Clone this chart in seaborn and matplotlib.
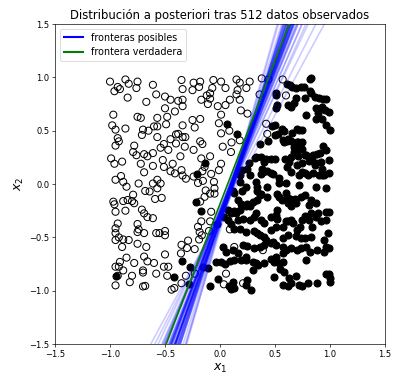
import numpy as np
import pandas as pd
import matplotlib
matplotlib.use('Agg')
import matplotlib.pyplot as plt
import seaborn as sns
from matplotlib.lines import Line2D

# observed points, class 0 (open markers)
x1_0 = [-1.00, -0.96, -0.93, -0.86, -0.91, -0.83, -0.75, -0.76, -0.84, -0.61, -0.67, -0.58, -0.50, -0.45, -0.50,
        -0.97, -0.98, -0.95, -0.86, -0.75, -0.72, -0.70, -0.71, -0.65, -0.60, -0.57, -0.57, -0.48, -0.49,
        -0.93, -0.95, -0.92, -0.78, -0.79, -0.76, -0.69, -0.61, -0.66, -0.57, -0.54, -0.51, -0.45, -0.47,
        -0.38, -0.40, -0.34, -0.32, -0.36, -0.99, -0.96, -0.89, -0.72, -0.61, -0.69, -0.52, -0.51, -0.45,
        -0.43, -0.41, -0.35, -0.34, -0.31, -0.90, -0.88, -0.95, -0.85, -0.74, -0.68, -0.64, -0.61, -0.57,
        -0.54, -0.57, -0.59, -0.53, -0.79, -0.97, -0.96, -0.95, -0.86, -0.88, -0.84, -0.80, -0.78, -0.71,
        -0.69, -0.66, -0.61, -0.93, -0.95, -0.95, -0.95, -0.92, -0.88, -0.83, -0.75, -0.74, -0.75, -0.69,
        -0.58, -0.55, -0.50, -0.50, -0.75, -0.89, -0.67, -0.69, -0.91, -0.85, -0.92, -0.95, -0.88, -0.78,
        -0.70, -0.60, -0.50, -0.51, -0.47, -0.66, -0.93, -0.80, -0.82, -0.95, -0.70, -0.70, -0.68, -0.58,
        -0.48, -0.415, -0.44,
        -0.35, -0.34, -0.24, -0.18, -0.19, -0.25, -0.06, 0.01, -0.07, -0.09, -0.12, -0.09, -0.17, -0.11,
        -0.02, -0.38, -0.34, -0.34, -0.41, 0.05, 0.15, 0.18, 0.27, 0.24, 0.16, 0.15, 0.38, 0.44, 0.57,
        0.36, 0.60, 0.09, 0.05, 0.18, 0.19, 0.25, -0.25, -0.18, -0.34, -0.23, -0.40, -0.315, -0.18, -0.16,
        -0.24, 0.01, -0.01, 0.085, 0.01, 0.025, 0.105, 0.10, 0.18, -0.09, -0.17, -0.14, -0.08, -0.16,
        -0.01, 0.01, -0.24, -0.20, -0.155, -0.055, -0.13, -0.09, -0.05, -0.05, -0.14, -0.18, -0.08, -0.17,
        -0.20, -0.185, -0.165, -0.19, -0.09, -0.10, 0.09, -0.29, -0.35, -0.30, -0.23, -0.355, -0.31, -0.23,
        -0.35, 0.055, 0.035, 0.13, 0.39, 0.21, 0.42, 0.43]
x2_0 = [0.96, 0.87, 0.91, 0.98, 0.89, 0.94, 0.96, 0.90, 0.81, 0.93, 0.77, 0.84, 0.82, 0.79, 0.71,
        0.65, 0.55, 0.51, 0.52, 0.63, 0.62, 0.51, 0.46, 0.50, 0.54, 0.62, 0.54, 0.63, 0.56,
        0.43, 0.36, 0.40, 0.36, 0.30, 0.27, 0.28, 0.29, 0.26, 0.44, 0.34, 0.375, 0.42, 0.32,
        0.47, 0.38, 0.44, 0.35, 0.26, 0.24, 0.19, 0.21, 0.19, 0.17, 0.11, 0.225, 0.16, 0.12,
        0.19, 0.10, 0.13, 0.08, 0.05, 0.075, 0.02, 0.04, -0.025, 0.005, -0.065, -0.07, 0.005, 0.04,
        0.005, -0.04, -0.14, -0.13, -0.10, -0.165, -0.19, -0.26, -0.25, -0.16, -0.15, -0.16, -0.18, -0.24,
        -0.275, -0.31, -0.32, -0.37, -0.415, -0.46, -0.525, -0.50, -0.52, -0.525, -0.375, -0.425, -0.45, -0.46,
        -0.46, -0.46, -0.44, -0.48, -0.56, -0.59, -0.59, -0.68, -0.73, -0.69, -0.775, -0.775, -0.81, -0.74,
        -0.81, -0.74, -0.66, -0.775, -0.775, -0.725, -0.86, -0.86, -0.92, -0.95, -0.83, -0.96, -0.955, -0.84,
        -0.86, -0.975, -0.99,
        0.975, 0.89, 0.95, 0.96, 0.91, 0.88, 0.975, 0.96, 0.90, 0.85, 0.83, 0.80, 0.79, 0.75,
        0.73, 0.78, 0.79, 0.73, 0.68, 0.90, 0.98, 0.95, 0.96, 0.90, 0.88, 0.84, 0.99, 0.98, 0.98,
        0.84, 0.83, 0.79, 0.74, 0.79, 0.69, 0.66, 0.60, 0.61, 0.55, 0.53, 0.465, 0.44, 0.40, 0.375,
        0.32, 0.65, 0.57, 0.50, 0.475, 0.35, 0.39, 0.30, 0.41, 0.26, 0.24, 0.16, 0.095, 0.12,
        0.13, 0.19, 0.07, 0.01, 0.03, 0.02, -0.06, -0.09, -0.09, -0.04, -0.12, -0.165, -0.26, -0.35,
        -0.40, -0.45, -0.48, -0.52, -0.35, -0.44, -0.425, -0.53, -0.57, -0.60, -0.61, -0.65, -0.86, -0.84,
        -0.93, -0.84, -0.94, -0.59, -0.62, -0.93, 0.565, 0.47]

# observed points, class 1 (filled markers)
x1_1 = [-0.95, -0.42, -0.345, -0.27, -0.28, -0.15, -0.09, -0.015, -0.22, -0.17, -0.14, -0.21, 0.06, 0.155,
        -0.03, 0.115,
        0.61, 0.655, 0.82, 0.74, 0.76, 0.82, 0.83, 0.86, 0.90, 0.94, 0.96, 0.77, 0.69, 0.51, 0.51, 0.645,
        0.87, 0.955, 0.99, 0.93, 1.0, 0.75, 0.72, 0.655, 0.58, 0.47, 0.50, 0.50, 0.57, 0.61, 0.645, 0.44,
        0.36, 0.71, 0.73, 0.75, 0.94, 0.96, 0.91, 0.845, 0.88, 0.78, 0.71, 0.67, 0.65, 0.59, 0.50, 0.42,
        0.33, 0.26, 0.385, 0.37, 0.43, 0.48, 0.54, 0.54, 0.61, 0.65, 0.715, 0.75, 0.80, 0.85, 0.90, 0.93,
        0.99, 0.745, 0.81, 0.875, 0.92, 0.99, 0.70, 0.25, 0.20, 0.18, 0.33, 0.34, 0.335, 0.37, 0.43, 0.34,
        0.30, 0.25, 0.235, 0.19, 0.16, 0.125, 0.52, 0.54, 0.56, 0.60, 0.615, 0.615, 0.64, 0.68, 0.735, 0.77,
        0.65, 0.83, 0.87, 0.99, 0.89, 0.83, 0.77, 0.52, 0.51, 0.52, 0.46, 0.37, 0.40, 0.31, 0.27, 0.21,
        0.16, 0.13, 0.185, 0.07, 0.10, 0.07, 0.04, 0.10, 0.13, 0.185, 0.235, 0.31, 0.36, 0.40, 0.42, 0.46,
        0.51, 0.57, 0.615, 0.65, 0.70, 0.73, 0.745, 0.81, 0.87, 0.92, 0.96, 0.98, 0.95, 0.96, 0.99, 0.95,
        0.88, 0.83, 0.77, 0.74, 0.69, 0.615, 0.57, 0.51, 0.46, 0.40, 0.36, 0.31, 0.25, 0.21, 0.115, 0.16,
        0.235, 0.30, 0.33, 0.40, 0.46, 0.51, 0.57, 0.60, 0.65, 0.70, 0.74, 0.78, 0.82, 0.55, 0.585, 0.63,
        0.645, 0.69, 0.72, 0.75, 0.80, 0.88, 0.99, 1.0, 1.0, 0.54, 0.49, 0.575, 0.615, -0.035, 0.01, 0.045,
        0.095, 0.13, 0.19, 0.235, 0.35, 0.30, 0.25, 0.235, 0.28, 0.13, 0.10, 0.08, 0.12, -0.11,
        0.83, 0.64, 0.69, 0.51, 0.515, 0.67, 0.62, 0.93, 0.78, 0.89, 0.87, 0.96, 0.705, 0.565, 0.525, 0.615,
        0.585, 0.705, 0.75, 0.675, 0.705, 0.77, 0.84, 0.63, 0.46, 0.37, 0.40, 0.32, 0.86, 0.93, 0.77, 0.95,
        0.39, 0.46, 0.27, 0.43, 0.60, 0.72, 0.87, 0.96, 0.36, 0.69, 0.81, 0.96, 0.33, 0.27, 0.145, 0.60,
        0.66, 0.84, 0.34, 0.48, 0.57, 0.025, 0.055, 0.49, 0.57, 0.78, 0.96, 0.18, 0.235, 0.20]
x2_1 = [-0.86, -0.875, -0.725, -0.775, -0.94, -0.775, -0.96, -0.89, -0.17, -0.25, 0.20, 0.09, 0.56, 0.47,
        -0.375, -0.07,
        0.94, 0.91, 0.985, 0.91, 0.91, 0.875, 0.85, 0.82, 0.81, 0.80, 0.80, 0.81, 0.81, 0.83, 0.715, 0.72,
        0.715, 0.69, 0.675, 0.61, 0.505, 0.505, 0.51, 0.48, 0.50, 0.545, 0.55, 0.46, 0.41, 0.405, 0.40, 0.40,
        0.375, 0.39, 0.35, 0.325, 0.36, 0.32, 0.29, 0.27, 0.28, 0.27, 0.265, 0.30, 0.255, 0.23, 0.23, 0.23,
        0.25, 0.195, 0.145, 0.09, 0.125, 0.09, 0.06, 0.01, 0.16, 0.11, 0.085, 0.11, 0.085, 0.105, 0.085, 0.085,
        0.10, 0.20, 0.215, 0.195, 0.21, 0.225, 0.18, 0.145, 0.13, 0.085, 0.02, -0.025, -0.07, -0.09, -0.12, -0.15,
        -0.165, -0.19, -0.21, -0.19, -0.15, -0.08, -0.09, -0.12, -0.15, -0.08, -0.135, -0.18, -0.145, -0.14, -0.12, -0.10,
        -0.21, -0.15, -0.18, -0.26, -0.27, -0.275, -0.30, -0.245, -0.29, -0.33, -0.31, -0.34, -0.37, -0.31, -0.34, -0.33,
        -0.34, -0.25, -0.245, -0.24, -0.275, -0.34, -0.31, -0.375, -0.425, -0.425, -0.45, -0.44, -0.48, -0.50, -0.525, -0.43,
        -0.40, -0.40, -0.35, -0.34, -0.43, -0.40, -0.34, -0.34, -0.31, -0.35, -0.34, -0.46, -0.525, -0.59, -0.60, -0.635,
        -0.62, -0.50, -0.51, -0.51, -0.49, -0.48, -0.51, -0.57, -0.555, -0.57, -0.59, -0.60, -0.58, -0.57, -0.62, -0.65,
        -0.68, -0.73, -0.745, -0.745, -0.70, -0.68, -0.65, -0.62, -0.60, -0.62, -0.60, -0.59, -0.635, -0.80, -0.82, -0.885,
        -0.93, -0.86, -0.95, -0.96, -0.93, -0.93, -0.84, -0.885, -0.915, -0.745, -0.87, -0.95, -0.96, -0.73, -0.73, -0.75,
        -0.72, -0.71, -0.71, -0.71, -0.76, -0.81, -0.90, -0.95, -0.99, -0.97, -0.985, -0.96, -0.915, -0.79,
        0.99, 0.925, 0.90, 0.85, 0.74, 0.76, 0.74, 0.72, 0.65, 0.665, 0.61, 0.55, 0.52, 0.52, 0.47, 0.425,
        0.39, 0.39, 0.39, 0.35, 0.30, 0.27, 0.25, 0.21, 0.23, 0.25, 0.21, 0.24, 0.175, 0.145, 0.10, 0.08,
        0.11, 0.10, 0.08, -0.025, 0.005, -0.01, -0.025, -0.04, -0.10, -0.18, -0.20, -0.26, -0.275, -0.21, -0.275, -0.35,
        -0.37, -0.40, -0.46, -0.54, -0.59, -0.59, -0.635, -0.73, -0.73, -0.71, -0.84, 0.02, -0.025, -0.07]

# posterior samples of the boundary: x1 = cut + x2 / slope
cut = [0.11, 0.10, 0.12, 0.09, 0.11, 0.12, 0.10, 0.09, 0.12, 0.11, 0.10, 0.11, 0.13, 0.10, 0.09, 0.12,
       0.11, 0.10, 0.10, 0.12, 0.11, 0.13, 0.12, 0.09, 0.10, 0.12, 0.11, 0.13, 0.12, 0.14, 0.11, 0.10,
       0.12, 0.09, 0.16, 0.11, 0.10, 0.12, 0.13, 0.10, 0.12, 0.11, 0.10, 0.13, 0.11, 0.11, 0.10, 0.12,
       0.11, 0.10, 0.12, 0.11]
slope = [2.85, 2.70, 3.00, 2.60, 2.90, 3.10, 2.75, 2.55, 2.95, 3.20, 2.80, 2.65, 3.05, 2.45, 2.90, 3.30,
         2.70, 2.50, 3.00, 2.85, 2.35, 3.40, 2.60, 2.80, 2.95, 2.20, 3.15, 2.75, 2.90, 2.05, 3.55, 2.65,
         2.85, 3.00, 1.90, 2.70, 3.10, 2.55, 2.80, 3.25, 2.40, 3.05, 2.75, 2.30, 3.65, 2.90, 2.80, 3.00,
         2.75, 2.95, 2.85, 3.10]
true_cut = 0.07
true_slope = 2.68

fig = plt.figure(figsize=(6.6, 6.35), dpi=60)
ax = fig.add_axes([0.139, 0.097, 0.833, 0.84])

sns.scatterplot(x=x1_0, y=x2_0, ax=ax, s=72, color='none', edgecolor='black', linewidth=1.2, zorder=1)
ax.collections[-1].set_facecolor('none')
sns.scatterplot(x=x1_1, y=x2_1, ax=ax, s=72, color='black', edgecolor='black', linewidth=1.2, zorder=1)

yy = np.array([-1.5, 1.5])
for c, m in zip(cut, slope):
    ax.plot(c + yy / m, yy, color='blue', alpha=0.2, lw=2, zorder=2)
ax.plot(true_cut + yy / true_slope, yy, color='green', lw=2, zorder=3)

ax.set_xlim(-1.5, 1.5)
ax.set_ylim(-1.5, 1.5)
ax.set_xticks(np.arange(-1.5, 1.51, 0.5))
ax.set_yticks(np.arange(-1.5, 1.51, 0.5))
ax.set_xlabel('$x_1$', fontsize=15)
ax.set_ylabel('$x_2$', fontsize=15)
ax.set_title('Distribución a posteriori tras 512 datos observados', fontsize=14)

handles = [Line2D([0], [0], color='blue', lw=2.5), Line2D([0], [0], color='green', lw=2.5)]
ax.legend(handles, ['fronteras posibles', 'frontera verdadera'], loc='upper left', fontsize=11.5)

fig.savefig('out.png', dpi=60)
